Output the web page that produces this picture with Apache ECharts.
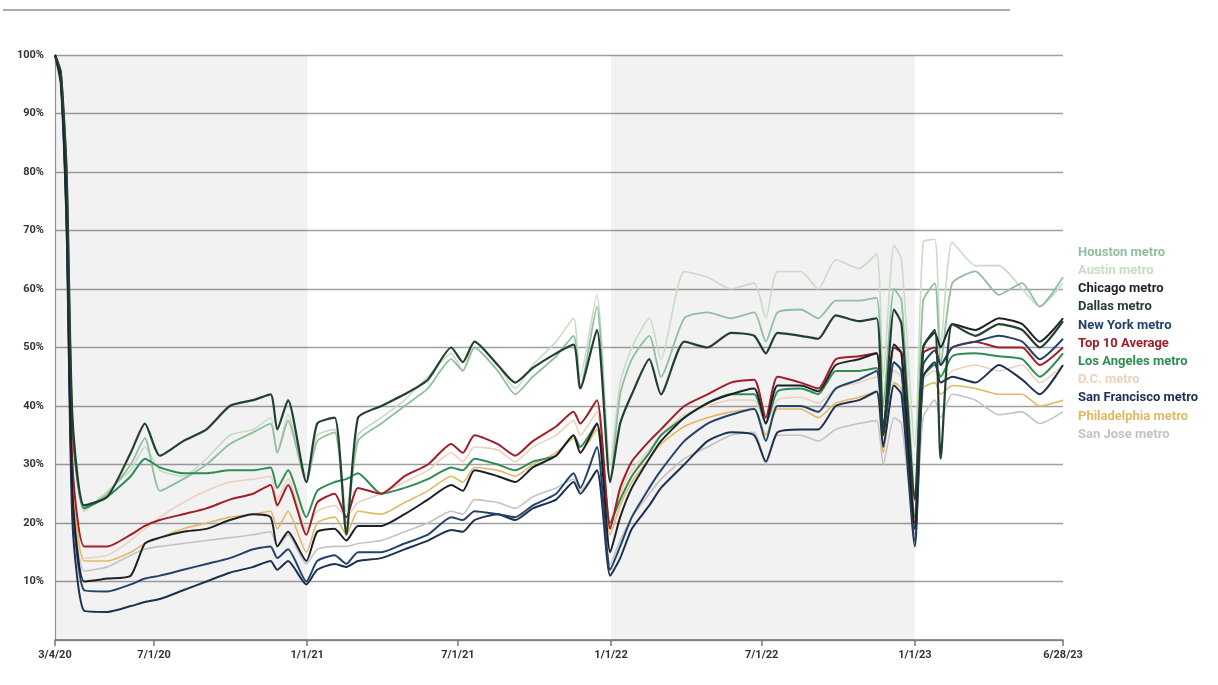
<!DOCTYPE html>
<html>
<head>
<meta charset="utf-8">
<title>Office occupancy vs pre-pandemic</title>
<script src="https://cdn.jsdelivr.net/npm/echarts@6/dist/echarts.min.js"></script>
<style>
  html, body { margin: 0; padding: 0; background: #fff; }
  #chart { width: 1218px; height: 685px; }
</style>
</head>
<body>
<div id="chart"></div>
<script>
// sample dates (weekly readings, thinned out)
const dates = [
  '2020-03-04','2020-03-11','2020-03-18','2020-03-25','2020-04-08','2020-05-06','2020-06-03','2020-06-20','2020-07-08','2020-08-05',
  '2020-09-02','2020-09-30','2020-10-28','2020-11-18','2020-11-26','2020-12-09','2020-12-31',
  '2021-01-13','2021-02-03','2021-02-17','2021-03-03','2021-03-31','2021-04-28','2021-05-26','2021-06-23','2021-07-07','2021-07-21',
  '2021-08-18','2021-09-08','2021-09-29','2021-10-27','2021-11-17','2021-11-25','2021-12-15','2021-12-31',
  '2022-01-12','2022-01-26','2022-02-16','2022-03-02','2022-03-30','2022-04-27','2022-05-25','2022-06-22','2022-07-06','2022-07-20',
  '2022-08-17','2022-09-07','2022-09-28','2022-10-26','2022-11-16','2022-11-24','2022-12-07','2022-12-16','2023-01-01',
  '2023-01-11','2023-01-25','2023-02-01','2023-02-15','2023-03-15','2023-04-12','2023-05-10','2023-05-31','2023-06-28'
];

// % of pre-pandemic occupancy
const houston = [100,97,80,37,22.5,25,30,34.5,25.5,27.5,30,33.5,35.5,37,32,37.5,27,
  34,35.5,20,34,37,40,43,48,46,50,46,42,45,48.5,52,43,57,27,42,48,52,45,55,56,55,56,51,56,56.5,55,58,58,58.5,40,60,58,25,58,61,47,61,63,59,61,57,62];
const austin = [100,97,81,38,22,25.5,29,33,29,28,31,35,36,38,32,38.5,28,
  35,36,22,35,38,41,45,49,46,51,47,43,47,51,55,45,59,30,44,50,55,48,63,62,60,61,55,63,63,60,65,63.5,66,45,67.5,65,33,68,68.5,50,68,64,64,60,57,61];
const chicago = [100,96,72,25,10,10.5,11,16.5,17.5,18.5,19,20.5,21.5,21,16,18.5,13.5,
  18.5,19,17,19.5,19.5,21.5,24,26.5,25.5,29,28,27,29.5,31.5,35,32,37,15,21,26,31,34,38,40.5,42,43,37,43.5,43.5,42.5,47,48,49,36,50.5,49,19,50,52.5,50,54,53,55,54,51,55];
const dallas = [100,97,80,38,23,24.5,32,37,31.5,34,36,40,41,42,36,41,27,
  37,38,18,38,40,42,44.5,50,47.5,51,47,44,46.5,49,50.5,43,53,27,37,42,48,42,51,50,52.5,52,49,52.5,52,51.5,55.5,54.5,55,35,56.5,54,24,50,53,31,54,52,54,53,50,54.5];
const newYork = [100,96,71,24,8.5,8.3,9.5,10.5,11,12,13,14,15.5,16,14,15.5,10,
  13.5,14.5,13,15,15,16.5,18,21,20.5,22,21.5,21,23,25,28.5,26,33,12,16,21,26,29,34,37,38.5,39.5,34,40,40,39,43,44.5,46,35,47.5,46,17,47,49.5,47,50,51,52,51,48,51.5];
const top10 = [100,96,75,30,16,16,18,19.5,20.5,21.5,22.5,24,25,26.5,23,26.5,18,
  23.5,25,21,26,25,28,30,33.5,32,35,33.5,31.5,34,36.5,39,37,41,19,26,30.5,34,36,40,42,44,44.5,38,45,44,43,48,48.5,49,36,50,49,20,49,50,47,50,51,50,50,47,50];
const losAngeles = [100,97,78,36,22.5,24.5,28,31,29.5,28.5,28.5,29,29,29.5,26,29,21,
  25.5,27,27.5,28.5,25,26,27.5,29.5,29,31,30,29,30.5,31.5,35,33,37,20,24,28,32,35,38,40.5,42,42,37,42.5,43,42,46,46,46.5,35,47.5,46,21,45,47,45,48.5,49,48.5,48,45,49];
const dc = [100,96,74,28,14,14.5,17,19,21,23.5,25.5,27,27.5,28,24,27.5,19,
  22,23,21,23.5,25,27,29,32,30.5,33,32.5,30.5,33,35,37.5,35,39,20,25,29,32.5,35,38.5,40,41,41,37,41,41.5,40.5,43,44,45,34,46,45,22,44.5,46,44,46,47,46,47,44,47];
const sanFrancisco = [100,95,70,20,5,4.8,5.8,6.5,7,8.5,10,11.5,12.5,13.5,12,13.5,9.5,
  12,13,12.5,13.5,14,15.5,17,18.8,18.5,20.5,21.5,20.5,22.5,24,27,25,29,11,14,19,23,26,30,34,35.5,35,30.5,35.5,36,36,40,41,42.5,33,43.5,42,16,45,47.5,44,45,44,47,44.5,42,47];
const philadelphia = [100,96,73,27,13.5,13.5,15,16.5,17.5,19,20,21,21.5,22,19,22,15,
  20,21,18,22,21.5,23.5,25.5,28,27,29.5,29,28,30,32,34.5,32,36,18,23,27,31,33.5,36.5,38,39,39.5,35,39.5,39.5,38,40.5,41.5,42.5,32,44,43,21,43,44,42,43.5,43,42,42,40,41];
const sanJose = [100,96,72,25,11.8,12.5,14.5,15.5,16,16.5,17,17.5,18,18.5,16,18,13,
  15.5,16,16,16.5,17,18.5,20,22,21.5,24,23.5,22.5,24.5,26,27.5,25.5,29,13,17,21,25,27.5,31,33,35,35.5,30,35,35,34,36,37,37.5,30,38,37,18,38,41,38,42,41,38.5,39,37,39];

const xTickDates = ['2020-03-04','2020-07-01','2021-01-01','2021-07-01','2022-01-01','2022-07-01','2023-01-01','2023-06-28'];
const shadedSpans = [['2020-03-04','2021-01-01'], ['2022-01-01','2023-01-01']];

// legend order (top to bottom)
const legendNames = ['Houston metro','Austin metro','Chicago metro','Dallas metro','New York metro','Top 10 Average',
  'Los Angeles metro','D.C. metro','San Francisco metro','Philadelphia metro','San Jose metro'];

// draw order: light lines first so the dark ones sit on top
const lines = [
  { name: 'San Jose metro', values: sanJose, color: '#c3c3c3', width: 1.6 },
  { name: 'D.C. metro', values: dc, color: '#ecd2bb', width: 1.6 },
  { name: 'Austin metro', values: austin, color: '#c8dcc4', width: 1.6 },
  { name: 'Philadelphia metro', values: philadelphia, color: '#e3b864', width: 1.6 },
  { name: 'Houston metro', values: houston, color: '#8fbf9f', width: 1.8 },
  { name: 'Los Angeles metro', values: losAngeles, color: '#2f8c52', width: 2 },
  { name: 'Top 10 Average', values: top10, color: '#a11d27', width: 2 },
  { name: 'San Francisco metro', values: sanFrancisco, color: '#1d3050', width: 2 },
  { name: 'New York metro', values: newYork, color: '#24436a', width: 2 },
  { name: 'Chicago metro', values: chicago, color: '#1c2129', width: 2 },
  { name: 'Dallas metro', values: dallas, color: '#22402f', width: 2.2 }
];

function toTime(s) {
  const p = s.split('-');
  return new Date(+p[0], +p[1] - 1, +p[2]).getTime();
}

let chart = echarts.init(document.getElementById('chart'));

let series = lines.map(function (l, i) {
  let s = {
    name: l.name,
    type: 'line',
    data: dates.map(function (d, k) { return [toTime(d), l.values[k]]; }),
    showSymbol: false,
    smooth: 0.2,
    color: l.color,
    lineStyle: { color: l.color, width: l.width },
    emphasis: { disabled: true }
  };
  if (i === 0) {
    // alternating year bands
    s.markArea = {
      silent: true,
      itemStyle: { color: 'rgba(0,0,0,0.05)' },
      data: shadedSpans.map(function (sp) { return [{ xAxis: toTime(sp[0]) }, { xAxis: toTime(sp[1]) }]; })
    };
  }
  return s;
});

let colorByName = {};
lines.forEach(function (l) { colorByName[l.name] = l.color; });

// x axis is a plain value axis holding timestamps, ticks placed on the labelled dates
let tickTimes = xTickDates.map(toTime);

chart.setOption({
  animation: false,
  backgroundColor: '#fff',
  grid: { left: 55, right: 155, top: 55, bottom: 45 },
  legend: {
    orient: 'vertical',
    left: 1073,
    top: 246,
    icon: 'none',
    itemWidth: 0,
    itemHeight: 13,
    itemGap: 5.2,
    padding: 0,
    selectedMode: false,
    textStyle: { fontFamily: 'Roboto', fontWeight: 'bold', fontSize: 13 },
    data: legendNames.map(function (n) {
      return { name: n, textStyle: { color: colorByName[n] } };
    })
  },
  xAxis: {
    type: 'value',
    min: tickTimes[0],
    max: tickTimes[tickTimes.length - 1],
    axisLine: { lineStyle: { color: '#777', width: 1.5 } },
    axisTick: { show: true, length: 6, lineStyle: { color: '#777', width: 1.5 }, customValues: tickTimes },
    axisLabel: {
      customValues: tickTimes,
      color: '#333',
      fontFamily: "'Liberation Sans Narrow', Roboto, sans-serif",
      fontWeight: 'bold',
      fontSize: 11,
      margin: 10,
      formatter: function (v) {
        let d = new Date(v);
        return (d.getMonth() + 1) + '/' + d.getDate() + '/' + String(d.getFullYear()).slice(2);
      }
    },
    splitLine: { show: false }
  },
  yAxis: {
    type: 'value',
    min: 0,
    max: 100,
    interval: 10,
    axisLine: { show: true, lineStyle: { color: '#999', width: 1.2 } },
    axisTick: { show: false },
    axisLabel: {
      color: '#333',
      fontFamily: "'Liberation Sans Narrow', Roboto, sans-serif",
      fontWeight: 'bold',
      fontSize: 11,
      margin: 11,
      formatter: function (v) { return v === 0 ? '' : v + '%'; }
    },
    splitLine: { lineStyle: { color: '#a0a0a0', width: 1.3 } }
  },
  graphic: [{
    type: 'line',
    shape: { x1: 3, y1: 10, x2: 1010, y2: 10 },
    style: { stroke: '#aaa', lineWidth: 2 }
  }],
  series: series
});
</script>
</body>
</html>
